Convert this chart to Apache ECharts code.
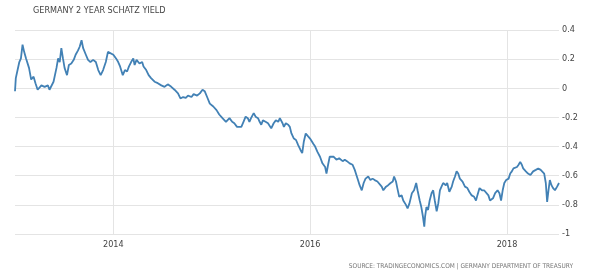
<!DOCTYPE html>
<html>
<head>
<meta charset="utf-8">
<script src="https://cdn.jsdelivr.net/npm/echarts@6/dist/echarts.min.js"></script>
<style>html,body{margin:0;padding:0;background:#fff;}#c{width:598px;height:277px;}</style>
</head>
<body>
<div id="c"></div>
<script>
var titleText = 'GERMANY 2 YEAR SCHATZ YIELD';
var sourceText = 'SOURCE: TRADINGECONOMICS.COM | GERMANY DEPARTMENT OF TREASURY';
var xTicks = ['2014-01-01', '2016-01-01', '2018-01-01'];
var xTickLabels = ['2014', '2016', '2018'];
var yMin = -1, yMax = 0.4, yStep = 0.2;
var dates = [
'2013-01-01','2013-01-04','2013-01-09','2013-01-17','2013-01-23','2013-01-29','2013-02-04','2013-02-11','2013-02-17','2013-02-22',
'2013-03-02','2013-03-11','2013-03-18','2013-03-26','2013-04-09','2013-04-21','2013-05-03','2013-05-09','2013-05-15','2013-05-24',
'2013-06-04','2013-06-10','2013-06-16','2013-06-22','2013-06-28','2013-07-04','2013-07-13','2013-07-20','2013-07-29','2013-08-07',
'2013-08-14','2013-08-23','2013-08-29','2013-09-05','2013-09-11','2013-09-21','2013-09-29','2013-10-08','2013-10-18','2013-10-28',
'2013-11-06','2013-11-15','2013-11-24','2013-12-04','2013-12-12','2013-12-19','2014-01-01','2014-01-11','2014-01-19','2014-01-26',
'2014-02-05','2014-02-13','2014-02-21','2014-02-28','2014-03-08','2014-03-16','2014-03-21','2014-03-28','2014-04-08','2014-04-18',
'2014-04-23','2014-05-03','2014-05-12','2014-05-21','2014-06-03','2014-06-15','2014-06-28','2014-07-10','2014-07-22','2014-08-04',
'2014-08-16','2014-08-29','2014-09-07','2014-09-17','2014-09-27','2014-10-05','2014-10-18','2014-10-26','2014-11-08','2014-11-18',
'2014-11-28','2014-12-06','2014-12-15','2014-12-25','2015-01-07','2015-01-19','2015-01-29','2015-02-10','2015-02-23','2015-03-02',
'2015-03-08','2015-03-18','2015-03-26','2015-04-05','2015-04-12','2015-04-21','2015-04-29','2015-05-07','2015-05-15','2015-05-21',
'2015-05-27','2015-06-06','2015-06-13','2015-06-22','2015-06-28','2015-07-04','2015-07-10','2015-07-20','2015-07-29','2015-08-04',
'2015-08-10','2015-08-19','2015-08-27','2015-09-05','2015-09-11','2015-09-21','2015-09-26','2015-10-03','2015-10-12','2015-10-18',
'2015-10-24','2015-11-02','2015-11-10','2015-11-18','2015-11-27','2015-12-03','2015-12-09','2015-12-16','2015-12-25','2016-01-01',
'2016-01-08','2016-01-13','2016-01-20','2016-01-28','2016-02-07','2016-02-16','2016-02-26','2016-03-02','2016-03-08','2016-03-14',
'2016-03-20','2016-03-29','2016-04-08','2016-04-18','2016-05-01','2016-05-09','2016-05-17','2016-05-27','2016-06-07','2016-06-15',
'2016-06-21','2016-06-27','2016-07-03','2016-07-11','2016-07-18','2016-07-25','2016-08-04','2016-08-12','2016-08-20','2016-08-28',
'2016-09-07','2016-09-14','2016-09-23','2016-09-29','2016-10-09','2016-10-17','2016-10-26','2016-11-03','2016-11-08','2016-11-15',
'2016-11-20','2016-11-27','2016-12-06','2016-12-12','2016-12-22','2016-12-28','2017-01-04','2017-01-13','2017-01-21','2017-01-29',
'2017-02-03','2017-02-11','2017-02-17','2017-02-23','2017-02-28','2017-03-03','2017-03-08','2017-03-14','2017-03-20','2017-03-27',
'2017-04-02','2017-04-08','2017-04-15','2017-04-21','2017-04-27','2017-05-03','2017-05-09','2017-05-19','2017-05-24','2017-06-01',
'2017-06-10','2017-06-15','2017-06-22','2017-06-28','2017-07-04','2017-07-10','2017-07-20','2017-07-29','2017-08-07','2017-08-14',
'2017-08-23','2017-09-01','2017-09-08','2017-09-13','2017-09-21','2017-09-30','2017-10-08','2017-10-15','2017-10-24','2017-10-30',
'2017-11-10','2017-11-18','2017-11-27','2017-12-04','2017-12-10','2017-12-16','2017-12-22','2017-12-29','2018-01-07','2018-01-13',
'2018-01-19','2018-01-25','2018-02-01','2018-02-07','2018-02-13','2018-02-19','2018-02-25','2018-03-02','2018-03-12','2018-03-20',
'2018-03-29','2018-04-08','2018-04-18','2018-04-27','2018-05-06','2018-05-13','2018-05-19','2018-05-25','2018-05-30','2018-06-04',
'2018-06-09','2018-06-15','2018-06-21','2018-06-28','2018-07-06','2018-07-13'
];
var yields = [
-0.02,0.07,0.08,0.18,0.205,0.30,0.25,0.205,0.205,0.14,
0.06,0.08,0.035,-0.01,0.02,0.01,0.02,-0.01,-0.02,0.045,
0.14,0.205,0.18,0.275,0.205,0.14,0.09,0.16,0.17,0.195,
0.23,0.26,0.285,0.33,0.275,0.23,0.195,0.18,0.195,0.18,
0.125,0.09,0.125,0.18,0.25,0.24,0.23,0.205,0.18,0.15,
0.09,0.125,0.115,0.15,0.18,0.205,0.16,0.195,0.17,0.18,
0.15,0.125,0.09,0.07,0.045,0.035,0.02,0.01,0.027,0.01,
-0.01,-0.035,-0.07,-0.06,-0.065,-0.05,-0.06,-0.04,-0.05,-0.035,
-0.01,-0.02,-0.06,-0.105,-0.125,-0.15,-0.18,-0.205,-0.23,-0.22,
-0.205,-0.23,-0.24,-0.265,-0.275,-0.265,-0.23,-0.195,-0.205,-0.23,
-0.205,-0.17,-0.195,-0.205,-0.23,-0.25,-0.22,-0.23,-0.24,-0.25,
-0.275,-0.24,-0.22,-0.23,-0.205,-0.24,-0.265,-0.24,-0.25,-0.265,
-0.31,-0.345,-0.355,-0.39,-0.425,-0.445,-0.365,-0.31,-0.33,-0.345,
-0.365,-0.38,-0.40,-0.435,-0.47,-0.515,-0.54,-0.585,-0.525,-0.47,
-0.46,-0.47,-0.49,-0.48,-0.50,-0.49,-0.50,-0.515,-0.525,-0.56,
-0.595,-0.63,-0.665,-0.70,-0.65,-0.62,-0.605,-0.63,-0.62,-0.63,
-0.64,-0.65,-0.675,-0.70,-0.675,-0.665,-0.65,-0.64,-0.605,-0.64,
-0.685,-0.745,-0.735,-0.77,-0.80,-0.825,-0.79,-0.72,-0.70,-0.65,
-0.70,-0.77,-0.815,-0.88,-0.95,-0.88,-0.815,-0.835,-0.77,-0.72,
-0.70,-0.77,-0.845,-0.79,-0.70,-0.675,-0.65,-0.665,-0.65,-0.71,
-0.675,-0.64,-0.605,-0.57,-0.585,-0.62,-0.64,-0.675,-0.685,-0.71,
-0.735,-0.745,-0.77,-0.735,-0.685,-0.70,-0.70,-0.71,-0.735,-0.77,
-0.755,-0.72,-0.70,-0.72,-0.77,-0.70,-0.65,-0.63,-0.62,-0.585,
-0.57,-0.55,-0.56,-0.54,-0.525,-0.505,-0.525,-0.55,-0.57,-0.585,
-0.595,-0.57,-0.56,-0.55,-0.56,-0.55,-0.585,-0.65,-0.78,-0.70,
-0.63,-0.665,-0.685,-0.70,-0.675,-0.65
];

var seriesData = dates.map(function (d, i) { return [d, yields[i]]; });
var chart = echarts.init(document.getElementById('c'), null, { renderer: 'canvas' });
var gridColor = '#e4e4e4';
var fontFam = 'DejaVu Sans Condensed, Liberation Sans, sans-serif';
chart.setOption({
  animation: false,
  backgroundColor: '#ffffff',
  title: [{
    text: titleText, left: 33, top: 6, padding: 0,
    textStyle: { fontFamily: fontFam, fontSize: 9, fontWeight: 'normal', color: '#444' }
  }, {
    text: sourceText, right: 25, bottom: 7, padding: 0,
    textStyle: { fontFamily: fontFam, fontSize: 6.5, fontWeight: 'normal', color: '#777' }
  }],
  grid: { left: 15, right: 39, top: 30, bottom: 43 },
  xAxis: {
    type: 'time',
    min: dates[0], max: dates[dates.length - 1],
    axisLine: { show: true, lineStyle: { color: gridColor } },
    axisTick: { show: false },
    axisLabel: { show: false },
    splitLine: { show: false }
  },
  yAxis: {
    type: 'value', position: 'right',
    min: yMin, max: yMax, interval: yStep,
    axisLine: { show: false }, axisTick: { show: false },
    axisLabel: {
      formatter: function (v) { return String(parseFloat(v.toFixed(1))); },
      fontFamily: fontFam, fontSize: 9, color: '#444', margin: 3
    },
    splitLine: { show: true, lineStyle: { color: gridColor, width: 1 } }
  },
  series: [{
    type: 'line', data: seriesData, showSymbol: false, symbol: 'none', z: 3,
    lineStyle: { color: '#4281b5', width: 1.8 },
    markLine: {
      silent: true, symbol: 'none', z: 1, animation: false,
      lineStyle: { color: gridColor, width: 1, type: 'solid' },
      label: {
        show: true, position: 'start', distance: 6,
        formatter: function (p) { return xTickLabels[p.dataIndex]; },
        fontFamily: fontFam, fontSize: 9, color: '#444'
      },
      emphasis: { disabled: true },
      data: xTicks.map(function (t) { return { xAxis: t }; })
    }
  }]
});
</script>
</body>
</html>
